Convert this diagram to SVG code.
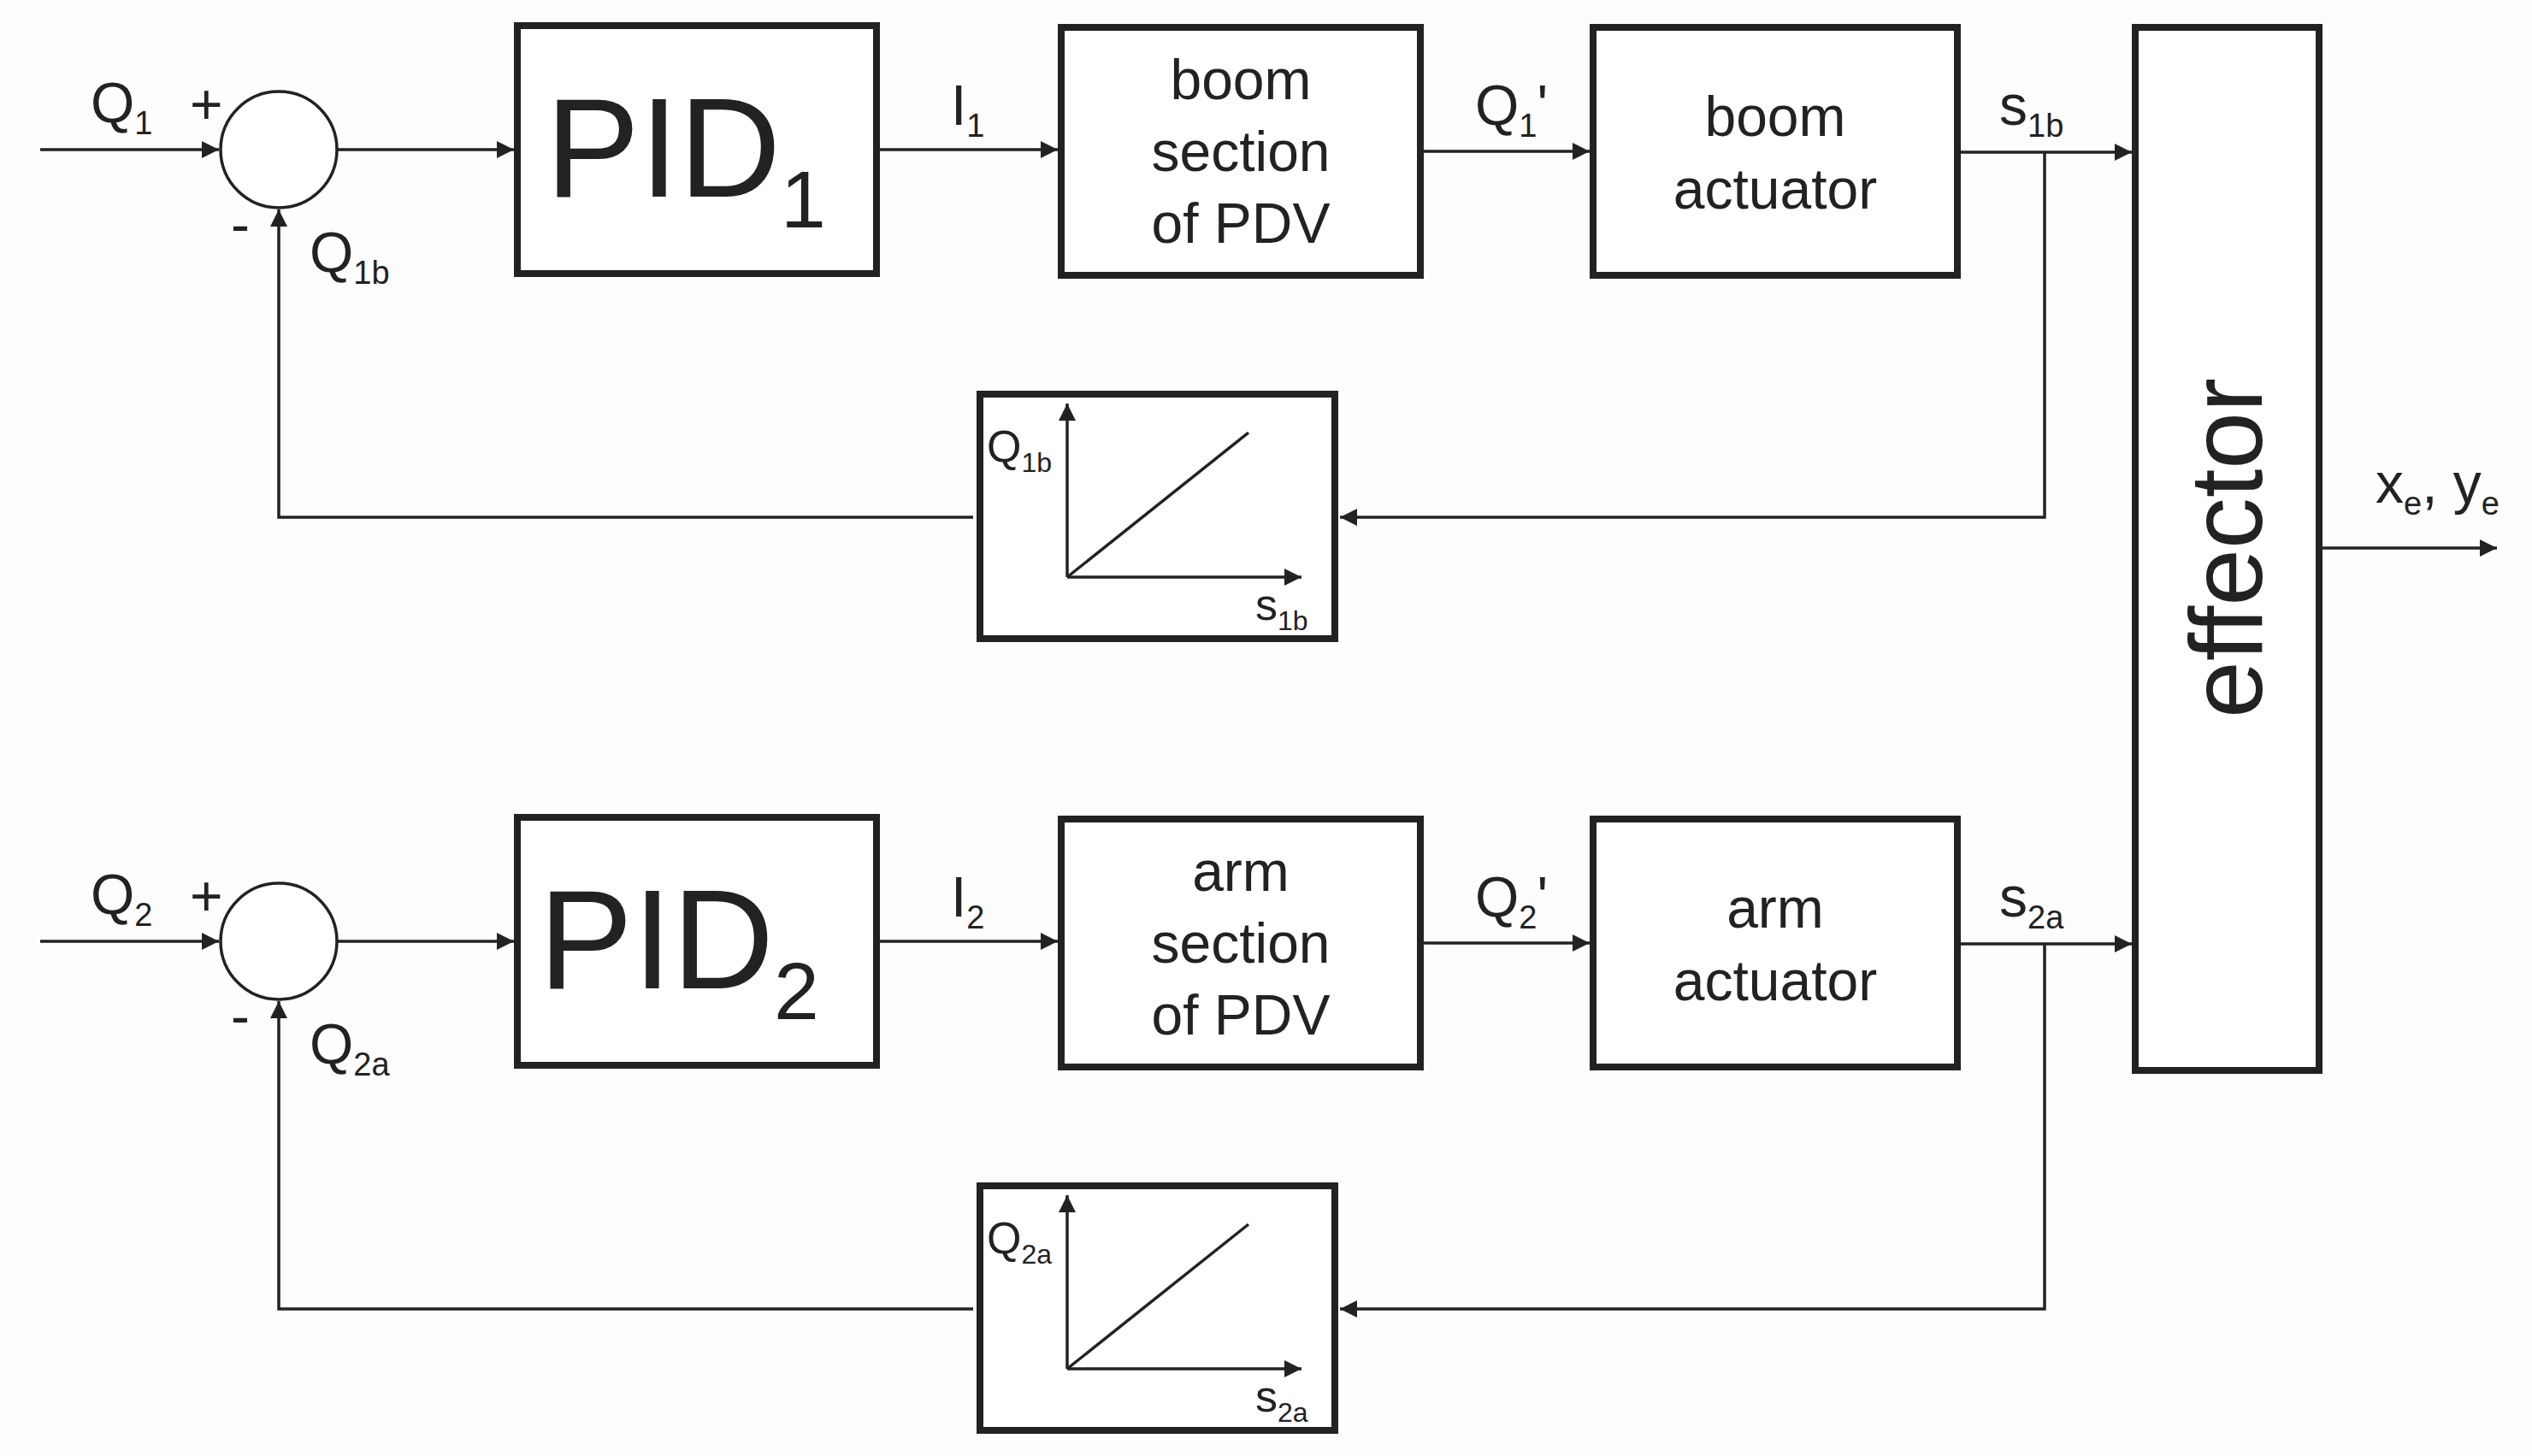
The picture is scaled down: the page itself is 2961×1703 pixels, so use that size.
<svg xmlns="http://www.w3.org/2000/svg" width="2961" height="1703" viewBox="0 0 2961 1703">
<style>
text{font-family:"Liberation Sans",Arial,sans-serif;fill:#222}
.box{fill:#fff;stroke:#222;stroke-width:8}
.ln{fill:none;stroke:#222;stroke-width:3.5}
.t{font-size:66px;text-anchor:middle}
.l{font-size:66px}
.s{font-size:38px}
</style>
<defs>
<marker id="b" viewBox="0 0 10 10" refX="10" refY="5" markerWidth="22" markerHeight="20" orient="auto" markerUnits="userSpaceOnUse"><path d="M0,0L10,5L0,10z" fill="#222"/></marker>
</defs>
<rect width="2961" height="1703" fill="#fdfdfd"/>
<g id="connectors">
<path class="ln" d="M47,175H256" marker-end="url(#b)"/>
<path class="ln" d="M394,175H601" marker-end="url(#b)"/>
<path class="ln" d="M1029,175H1237" marker-end="url(#b)"/>
<path class="ln" d="M1665,177H1859" marker-end="url(#b)"/>
<path class="ln" d="M2293,178H2493" marker-end="url(#b)"/>
<path class="ln" d="M2391,178V605H1567" marker-end="url(#b)"/>
<path class="ln" d="M1138,605H326V245" marker-end="url(#b)"/>
<path class="ln" d="M47,1101H256" marker-end="url(#b)"/>
<path class="ln" d="M394,1101H601" marker-end="url(#b)"/>
<path class="ln" d="M1029,1101H1237" marker-end="url(#b)"/>
<path class="ln" d="M1665,1103H1859" marker-end="url(#b)"/>
<path class="ln" d="M2293,1104H2493" marker-end="url(#b)"/>
<path class="ln" d="M2391,1104V1531H1567" marker-end="url(#b)"/>
<path class="ln" d="M1138,1531H326V1171" marker-end="url(#b)"/>
<path class="ln" d="M2716,641H2920" marker-end="url(#b)"/>
</g>
<g id="labels">
<text class="l" x="106" y="143">Q<tspan class="s" dy="14">1</tspan></text>
<text class="l" x="222" y="145">+</text>
<text class="l" x="270" y="285">-</text>
<text class="l" x="362" y="318">Q<tspan class="s" dy="14">1b</tspan></text>
<text class="l" x="1112" y="146">I<tspan class="s" dy="14">1</tspan></text>
<text class="l" x="1725" y="146">Q<tspan class="s" dy="14">1</tspan><tspan dy="-14">'</tspan></text>
<text class="l" x="2338" y="146">s<tspan class="s" dy="14">1b</tspan></text>
<text class="l" x="106" y="1069">Q<tspan class="s" dy="14">2</tspan></text>
<text class="l" x="222" y="1071">+</text>
<text class="l" x="270" y="1211">-</text>
<text class="l" x="362" y="1244">Q<tspan class="s" dy="14">2a</tspan></text>
<text class="l" x="1112" y="1072">I<tspan class="s" dy="14">2</tspan></text>
<text class="l" x="1725" y="1072">Q<tspan class="s" dy="14">2</tspan><tspan dy="-14">'</tspan></text>
<text class="l" x="2338" y="1072">s<tspan class="s" dy="14">2a</tspan></text>
<text class="l" x="2778" y="588">x<tspan class="s" dy="14">e</tspan><tspan dy="-14">, y</tspan><tspan class="s" dy="14">e</tspan></text>
</g>
<g id="sum1"><circle cx="326" cy="175" r="68" fill="#fff" stroke="#222" stroke-width="3.5"/></g>
<g id="sum2"><circle cx="326" cy="1101" r="68" fill="#fff" stroke="#222" stroke-width="3.5"/></g>
<g id="pid1"><rect class="box" x="605" y="30" width="420" height="290"/><text x="638" y="230" style="font-size:165px">PID<tspan dy="36" style="font-size:95px">1</tspan></text></g>
<g id="pid2"><rect class="box" x="605" y="956" width="420" height="290"/><text x="630" y="1156" style="font-size:165px">PID<tspan dy="36" style="font-size:95px">2</tspan></text></g>
<g id="boomPDV"><rect class="box" x="1241" y="32" width="420" height="290"/><text class="t" x="1451" y="116">boom</text><text class="t" x="1451" y="200">section</text><text class="t" x="1451" y="284">of PDV</text></g>
<g id="armPDV"><rect class="box" x="1241" y="958" width="420" height="290"/><text class="t" x="1451" y="1042">arm</text><text class="t" x="1451" y="1126">section</text><text class="t" x="1451" y="1210">of PDV</text></g>
<g id="boomAct"><rect class="box" x="1863" y="32" width="426" height="290"/><text class="t" x="2076" y="159">boom</text><text class="t" x="2076" y="244">actuator</text></g>
<g id="armAct"><rect class="box" x="1863" y="958" width="426" height="290"/><text class="t" x="2076" y="1085">arm</text><text class="t" x="2076" y="1170">actuator</text></g>
<g id="effector"><rect class="box" x="2497" y="32" width="215" height="1220"/><text x="2645" y="641" text-anchor="middle" transform="rotate(-90 2645 641)" style="font-size:120px">effector</text></g>
<g id="graph1"><rect class="box" x="1146" y="461" width="415" height="286"/>
<path class="ln" d="M1248,675V472" marker-end="url(#b)"/><path class="ln" d="M1248,675H1522" marker-end="url(#b)"/><path class="ln" d="M1248,675L1460,506"/>
<text x="1154" y="540" style="font-size:52px">Q<tspan dy="12" style="font-size:32px">1b</tspan></text>
<text x="1468" y="725" style="font-size:52px">s<tspan dy="12" style="font-size:32px">1b</tspan></text></g>
<g id="graph2"><rect class="box" x="1146" y="1387" width="415" height="286"/>
<path class="ln" d="M1248,1601V1398" marker-end="url(#b)"/><path class="ln" d="M1248,1601H1522" marker-end="url(#b)"/><path class="ln" d="M1248,1601L1460,1432"/>
<text x="1154" y="1466" style="font-size:52px">Q<tspan dy="12" style="font-size:32px">2a</tspan></text>
<text x="1468" y="1651" style="font-size:52px">s<tspan dy="12" style="font-size:32px">2a</tspan></text></g>
</svg>
